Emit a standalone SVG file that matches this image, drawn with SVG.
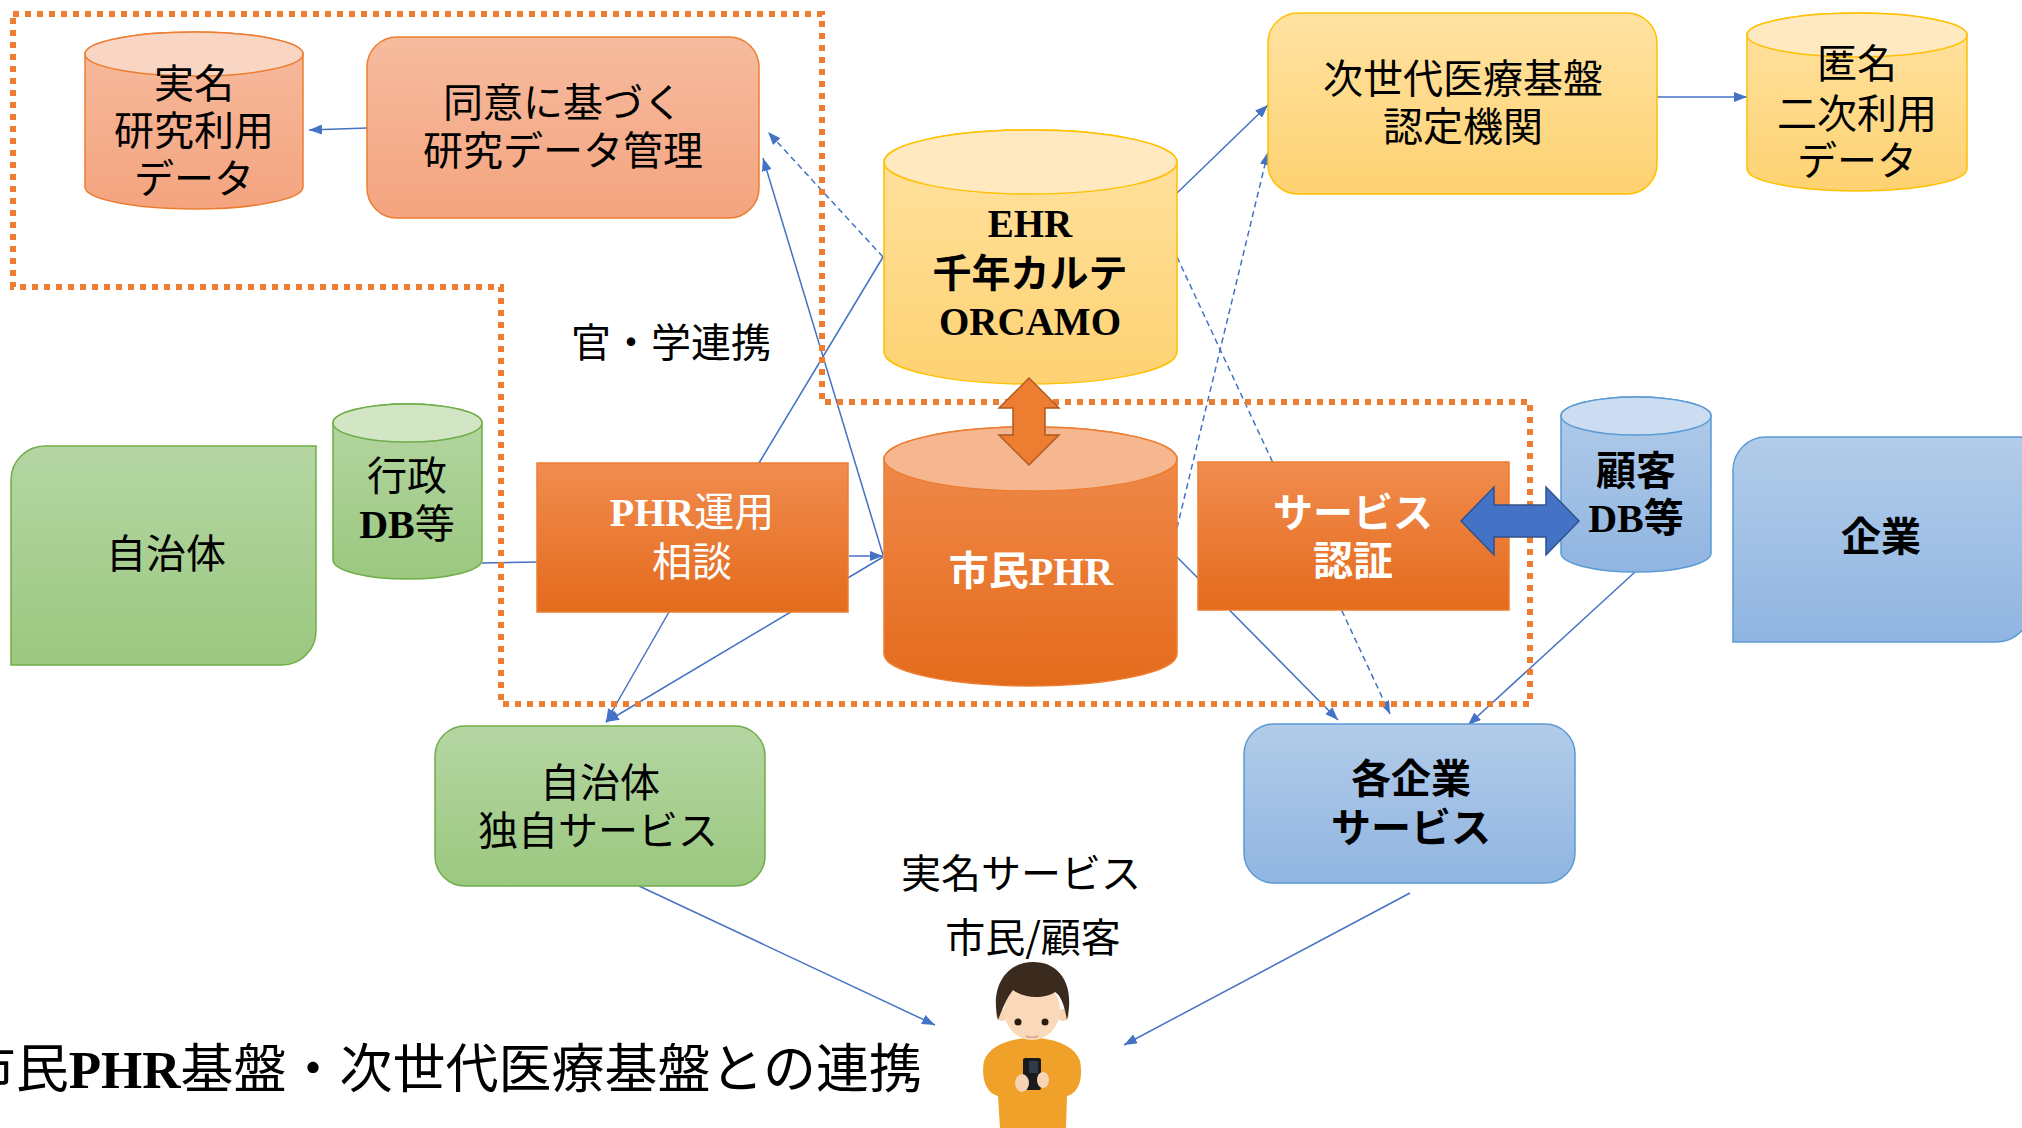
<svg xmlns="http://www.w3.org/2000/svg" width="2022" height="1128" viewBox="0 0 2022 1128">
  <style>
    .t { font-family: "Noto Sans CJK JP", sans-serif; font-size: 40px; text-anchor: middle; fill: #000; }
    .w { fill: #fff; }
    .b { font-weight: 700; }
    .lat { font-family: "Liberation Serif", "Noto Sans CJK JP", serif; font-weight: 700; }
    .mix { font-family: "Liberation Serif", "Noto Sans CJK JP", serif; }
    .conn { fill: none; stroke: #4472C4; stroke-width: 1.5; marker-end: url(#ah); }
    .plain { fill: none; stroke: #4472C4; stroke-width: 1.5; }
    .dash { stroke-dasharray: 6 4; }
    .frame { fill: none; stroke: #ED7D31; stroke-width: 6; stroke-dasharray: 6 6; }
    .sSal { stroke: #ED7D31; stroke-width: 1.5; }
    .sYel { stroke: #FFC000; stroke-width: 1.5; }
    .sOr { stroke: #ED7D31; stroke-width: 1.5; }
    .sGr { stroke: #70AD47; stroke-width: 1.5; }
    .sBl { stroke: #5B9BD5; stroke-width: 1.5; }
  </style>
  <defs>
    <linearGradient id="gSal" x1="0" y1="0" x2="0" y2="1">
      <stop offset="0" stop-color="#F6BB9E"/><stop offset="1" stop-color="#F4A47F"/>
    </linearGradient>
    <linearGradient id="gYel" x1="0" y1="0" x2="0" y2="1">
      <stop offset="0" stop-color="#FFE2A2"/><stop offset="1" stop-color="#FED272"/>
    </linearGradient>
    <linearGradient id="gOr" x1="0" y1="0" x2="0" y2="1">
      <stop offset="0" stop-color="#F18C4F"/><stop offset="1" stop-color="#E46B1C"/>
    </linearGradient>
    <linearGradient id="gGr" x1="0" y1="0" x2="0" y2="1">
      <stop offset="0" stop-color="#B5D6A3"/><stop offset="1" stop-color="#9BC87F"/>
    </linearGradient>
    <linearGradient id="gBl" x1="0" y1="0" x2="0" y2="1">
      <stop offset="0" stop-color="#B2CCE9"/><stop offset="1" stop-color="#90B5E1"/>
    </linearGradient>
    <marker id="ah" viewBox="0 0 13 10" refX="13" refY="5" markerWidth="13" markerHeight="10" markerUnits="userSpaceOnUse" orient="auto">
      <path d="M0,0 L13,5 L0,10 z" fill="#4472C4"/>
    </marker>
  </defs>

  <rect width="2022" height="1128" fill="#fff"/>

  <!-- connectors -->
  <g id="connectors">
    <line class="conn" x1="367" y1="128" x2="309" y2="130"/>
    <line class="conn dash" x1="883" y1="257" x2="768" y2="132"/>
    <line class="conn" x1="883" y1="555" x2="763" y2="158"/>
    <line class="plain" x1="883" y1="257" x2="759" y2="463"/>
    <line class="plain" x1="482" y1="563" x2="537" y2="562"/>
    <line class="conn" x1="849" y1="556" x2="883" y2="556"/>
    <line class="conn" x1="883" y1="557" x2="606" y2="722"/>
    <line class="conn" x1="669" y1="612" x2="606" y2="722"/>
    <line class="conn" x1="1177" y1="193" x2="1268" y2="105"/>
    <line class="conn dash" x1="1177" y1="528" x2="1268" y2="152"/>
    <line class="conn" x1="1657" y1="97" x2="1747" y2="97"/>
    <line class="conn dash" x1="1177" y1="257" x2="1390" y2="714"/>
    <line class="conn" x1="1177" y1="557" x2="1338" y2="720"/>
    <line class="conn" x1="1635" y1="572" x2="1468" y2="725"/>
    <line class="conn" x1="639" y1="886" x2="935" y2="1025"/>
    <line class="conn" x1="1410" y1="893" x2="1124" y2="1045"/>
  </g>

  <!-- research side -->
  <g id="jitsumei-data">
    <path class="sSal" fill="url(#gSal)" d="M85,54 V187 A109,22 0 0 0 303,187 V54 A109,22 0 0 0 85,54 Z"/>
    <ellipse class="sSal" cx="194" cy="54" rx="109" ry="22" fill="#F9D6C4"/>
    <text class="t" x="194" y="98">実名</text>
    <text class="t" x="194" y="145">研究利用</text>
    <text class="t" x="194" y="193">データ</text>
  </g>

  <g id="research-mgmt">
    <rect class="sSal" x="367" y="37" width="392" height="181" rx="30" fill="url(#gSal)"/>
    <text class="t" x="563" y="117">同意に基づく</text>
    <text class="t" x="563" y="165">研究データ管理</text>
  </g>

  <!-- EHR -->
  <g id="ehr">
    <path class="sYel" fill="url(#gYel)" d="M884,162 V352 A146.5,32 0 0 0 1177,352 V162 A146.5,32 0 0 0 884,162 Z"/>
    <ellipse class="sYel" cx="1030.5" cy="162" rx="146.5" ry="32" fill="#FFE9C0"/>
    <text class="t lat" x="1030" y="237" style="font-size:39px">EHR</text>
    <text class="t b" x="1030" y="287" style="font-size:39px">千年カルテ</text>
    <text class="t lat" x="1030" y="335" style="font-size:39px">ORCAMO</text>
  </g>

  <g id="nintei">
    <rect class="sYel" x="1268" y="13" width="389" height="181" rx="30" fill="url(#gYel)"/>
    <text class="t" x="1463" y="93">次世代医療基盤</text>
    <text class="t" x="1463" y="141">認定機関</text>
  </g>

  <g id="tokumei-data">
    <path class="sYel" fill="url(#gYel)" d="M1747,35 V169 A110,22 0 0 0 1967,169 V35 A110,22 0 0 0 1747,35 Z"/>
    <ellipse class="sYel" cx="1857" cy="35" rx="110" ry="22" fill="#FFE9C0"/>
    <text class="t" x="1857" y="78">匿名</text>
    <text class="t" x="1857" y="128">二次利用</text>
    <text class="t" x="1857" y="175">データ</text>
  </g>

  <text id="kangaku" class="t" x="671" y="357">官・学連携</text>

  <!-- municipality side -->
  <g id="jichitai">
    <path class="sGr" fill="url(#gGr)" d="M45,446 H316 V631 A34,34 0 0 1 282,665 H11 V480 A34,34 0 0 1 45,446 Z"/>
    <text class="t" x="166" y="568">自治体</text>
  </g>

  <g id="gyosei-db">
    <path class="sGr" fill="url(#gGr)" d="M333,423 V560 A74.5,19 0 0 0 482,560 V423 A74.5,19 0 0 0 333,423 Z"/>
    <ellipse class="sGr" cx="407.5" cy="423" rx="74.5" ry="19" fill="#D2E6C6"/>
    <text class="t" x="407" y="490">行政</text>
    <text class="t mix" x="407" y="538"><tspan font-weight="700">DB</tspan>等</text>
  </g>

  <g id="phr-unyo">
    <rect class="sOr" x="537" y="463" width="311" height="149" fill="url(#gOr)"/>
    <text class="t w mix" x="692" y="526"><tspan font-weight="700">PHR</tspan>運用</text>
    <text class="t w" x="692" y="576">相談</text>
  </g>

  <g id="shimin-phr">
    <path class="sOr" fill="url(#gOr)" d="M884,459 V654 A146.5,32 0 0 0 1177,654 V459 A146.5,32 0 0 0 884,459 Z"/>
    <ellipse class="sOr" cx="1030.5" cy="459" rx="146.5" ry="32" fill="#F6B690"/>
    <text class="t w lat" x="1031" y="585">市民PHR</text>
  </g>

  <g id="service-ninsho">
    <rect class="sOr" x="1198" y="462" width="311" height="148" fill="url(#gOr)"/>
    <text class="t w b" x="1353" y="527">サービス</text>
    <text class="t w b" x="1353" y="575">認証</text>
  </g>

  <!-- company side -->
  <g id="kokyaku-db">
    <path class="sBl" fill="url(#gBl)" d="M1561,416 V553 A75,19 0 0 0 1711,553 V416 A75,19 0 0 0 1561,416 Z"/>
    <ellipse class="sBl" cx="1636" cy="416" rx="75" ry="19" fill="#CCDDF1"/>
    <text class="t b" x="1636" y="485">顧客</text>
    <text class="t lat" x="1636" y="532">DB等</text>
  </g>

  <g id="kigyo">
    <path class="sBl" fill="url(#gBl)" d="M1766,437 H2030 V609 A33,33 0 0 1 1997,642 H1733 V470 A33,33 0 0 1 1766,437 Z"/>
    <text class="t b" x="1881" y="551">企業</text>
  </g>

  <g id="jichitai-service">
    <rect class="sGr" x="435" y="726" width="330" height="160" rx="30" fill="url(#gGr)"/>
    <text class="t" x="600" y="797">自治体</text>
    <text class="t" x="598" y="845">独自サービス</text>
  </g>

  <g id="kigyo-service">
    <rect class="sBl" x="1244" y="724" width="331" height="159" rx="30" fill="url(#gBl)"/>
    <text class="t b" x="1411" y="793">各企業</text>
    <text class="t b" x="1411" y="842">サービス</text>
  </g>

  <!-- citizen -->
  <g id="citizen">
    <text class="t" x="1021" y="888">実名サービス</text>
    <text class="t" x="1033" y="952">市民/顧客</text>
    <path fill="#EFA12A" d="M1000,1128 L998,1096 C985,1093 981,1076 984,1061 C989,1046 1010,1038 1032,1038 C1055,1038 1075,1046 1080,1061 C1083,1076 1080,1093 1067,1096 L1066,1128 Z"/>
    <circle cx="1002" cy="1015" r="6" fill="#F7D3B3"/>
    <circle cx="1063" cy="1015" r="6" fill="#F7D3B3"/>
    <ellipse cx="1032" cy="1010" rx="28" ry="30" fill="#FAD9BB"/>
    <path fill="#3B2A1E" d="M998,1020 C990,988 1005,962 1033,962 C1061,962 1075,986 1067,1020 C1064,1004 1061,996 1055,992 C1045,999 1025,999 1013,990 C1006,999 1002,1010 998,1020 Z"/>
    <circle cx="1018" cy="1022" r="3.5" fill="#2A1A10"/>
    <circle cx="1045" cy="1022" r="3.5" fill="#2A1A10"/>
    <path d="M1026,1036 Q1032,1039 1038,1036" fill="none" stroke="#D9A98A" stroke-width="1.5"/>
    <rect x="1023" y="1058" width="18" height="32" rx="2" fill="#1A1A1A"/>
    <rect x="1029" y="1061" width="9" height="12" fill="#2E3C4A"/>
    <ellipse cx="1022" cy="1083" rx="7" ry="9" fill="#F7D3B3"/>
    <ellipse cx="1043" cy="1080" rx="6" ry="8" fill="#F7D3B3"/>
  </g>

  <!-- dotted boundary of the PHR / research area -->
  <polygon id="area-frame" class="frame" points="13,14 822,14 822,402 1530,402 1530,704 501,704 501,287 13,287"/>

  <!-- bidirectional arrows -->
  <g id="ehr-phr-link">
    <path fill="#ED7D31" stroke="#AE5A21" stroke-width="1.5" d="M1029,378 L1059,408 H1045 V435 H1059 L1029,465 L999,435 H1013 V408 H999 Z"/>
  </g>
  <g id="auth-db-link">
    <path fill="#4472C4" stroke="#2F528F" stroke-width="1.5" d="M1461,521 L1494,487 V505 H1546 V487 L1579,521 L1546,555 V537 H1494 V555 Z"/>
  </g>

  <text id="title" class="t mix" x="922" y="1088" style="font-size:53px;text-anchor:end">市民<tspan font-weight="700">PHR</tspan>基盤・次世代医療基盤との連携</text>
</svg>
